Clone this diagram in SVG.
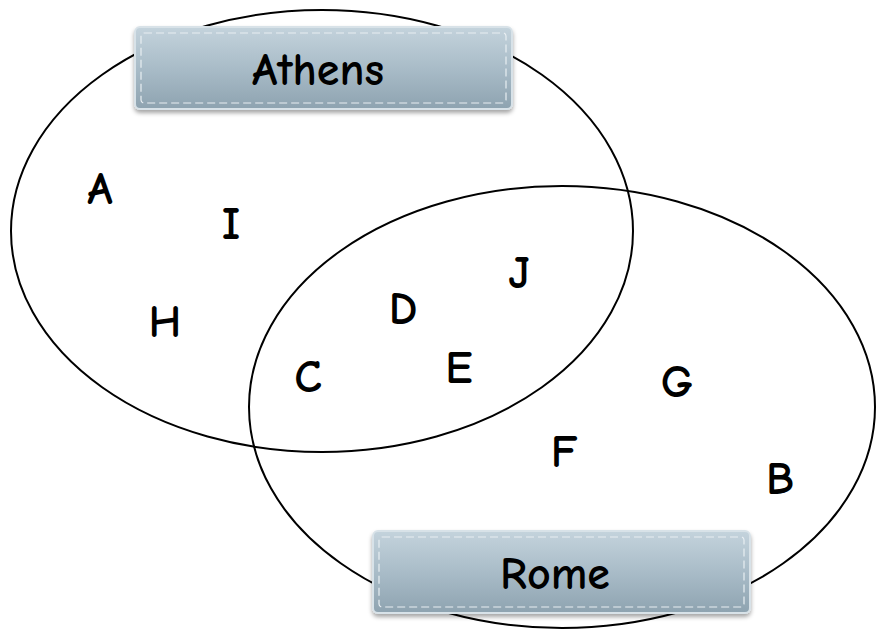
<svg xmlns="http://www.w3.org/2000/svg" width="877" height="630" viewBox="0 0 877 630">
<defs>
<linearGradient id="g" x1="0" y1="0" x2="0" y2="1">
<stop offset="0" stop-color="#c4d3dc"/>
<stop offset="0.5" stop-color="#a9bcc8"/>
<stop offset="1" stop-color="#8ea3b0"/>
</linearGradient>
<filter id="sh" x="-10%" y="-20%" width="120%" height="150%">
<feDropShadow dx="0" dy="3" stdDeviation="2" flood-color="#000" flood-opacity="0.35"/>
</filter>
</defs>
<style>
.set{fill:none;stroke:#000;stroke-width:2}
.box{fill:url(#g);stroke:#d8e2e8;stroke-width:2;filter:url(#sh)}
.stitch{fill:none;stroke:#e8eef2;stroke-width:1.2;stroke-dasharray:8 4}
.lbl{font-family:"Comic Neue","Liberation Sans",sans-serif;font-size:46px;font-weight:bold;fill:#000;text-anchor:middle}
.item{font-family:"Comic Neue","Liberation Sans",sans-serif;font-size:46px;font-weight:bold;fill:#000;text-anchor:middle}
</style>
<rect width="877" height="630" fill="#fff"/>
<g id="connectors"></g>
<g id="athens-set"><ellipse class="set" cx="322" cy="231" rx="311" ry="221"/></g>
<g id="rome-set"><ellipse class="set" cx="562" cy="407" rx="313" ry="221"/></g>
<g id="athens">
<rect class="box" x="135" y="27" width="377" height="82" rx="5"/>
<rect class="stitch" x="141" y="33" width="365" height="70" rx="3"/>
<text class="lbl" x="318" y="85">Athens</text>
</g>
<g id="rome">
<rect class="box" x="373" y="531" width="377" height="82" rx="5"/>
<rect class="stitch" x="379" y="537" width="365" height="70" rx="3"/>
<text class="lbl" x="555" y="589">Rome</text>
</g>
<g id="items">
<text class="item" x="100" y="204">A</text>
<text class="item" x="231" y="239">I</text>
<text class="item" x="165" y="337">H</text>
<text class="item" x="403" y="324">D</text>
<text class="item" x="519" y="288">J</text>
<text class="item" x="308" y="392">C</text>
<text class="item" x="459" y="383">E</text>
<text class="item" x="677" y="397">G</text>
<text class="item" x="564" y="467">F</text>
<text class="item" x="780" y="494">B</text>
</g>
</svg>
